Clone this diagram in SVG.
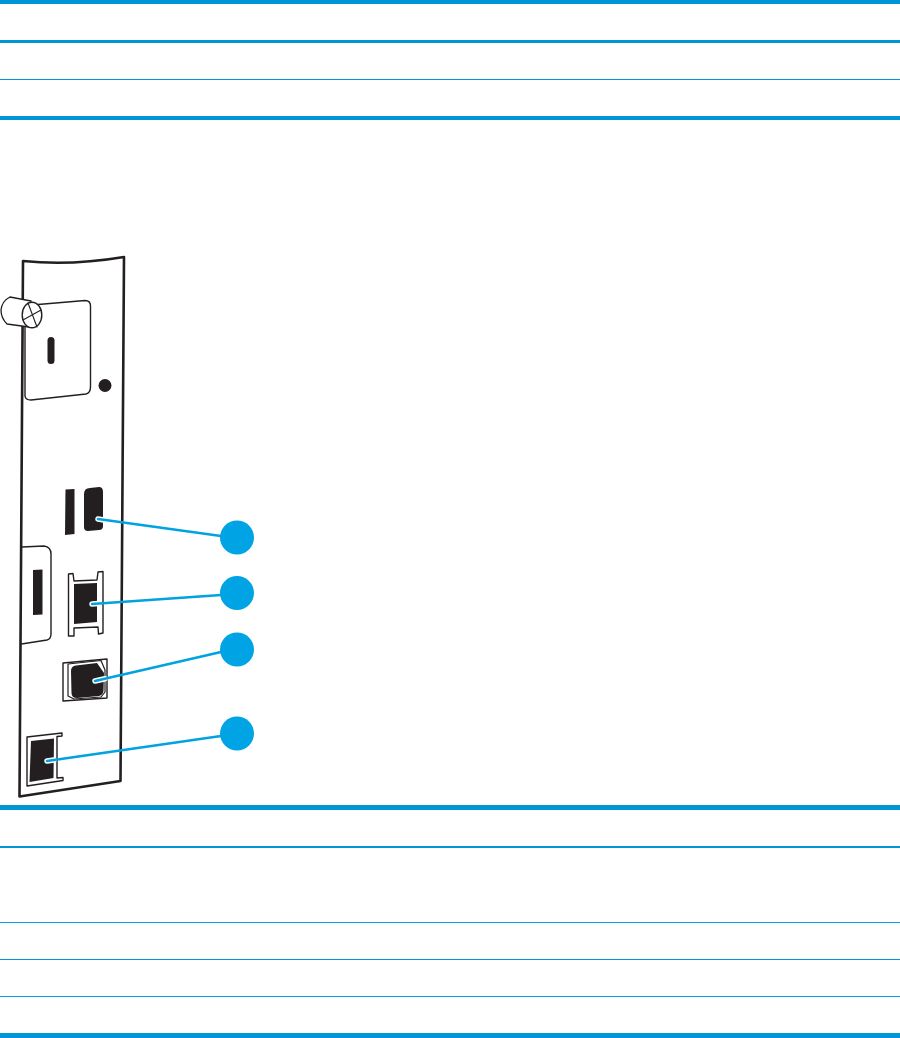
<svg xmlns="http://www.w3.org/2000/svg" width="900" height="1038" viewBox="0 0 900 1038">
<style>
.rule{fill:#0096d6}
.thin{fill:#00a3e0}
.o{fill:none;stroke:#231f20;stroke-linejoin:round;stroke-linecap:round}
.w{fill:#fff;stroke:#231f20;stroke-linejoin:round}
.k{fill:#231f20}
.c{stroke:#00a3e0;stroke-width:2.6;stroke-linecap:round;fill:none}
.d{fill:#fff}
.b{fill:#00a3e4}
</style>
<rect width="900" height="1038" fill="#fff"/>
<g id="table-rules">
<rect class="rule" x="0" y="0" width="900" height="4"/>
<rect class="rule" x="0" y="40" width="900" height="3"/>
<rect class="rule" x="0" y="79" width="900" height="1"/>
<rect class="rule" x="0" y="116" width="900" height="4"/>
<rect class="rule" x="0" y="805" width="900" height="5"/>
<rect class="rule" x="0" y="846" width="900" height="2"/>
<rect class="thin" x="0" y="922" width="900" height="1"/>
<rect class="rule" x="0" y="959" width="900" height="1"/>
<rect class="thin" x="0" y="996" width="900" height="1"/>
<rect class="rule" x="0" y="1033" width="900" height="5"/>
</g>
<g id="panel">
<path class="o" stroke-width="2.600" d="M23 261Q70 266 124 257Q122 520 120.500 781L19.500 796.500Q21 520 23 261Z"/>
</g>
<g id="plate">
<path class="w" stroke-width="1.400" d="M25 396L25 310L38 304.500L85 300.500Q90.500 300.500 90.500 306L90.500 387Q90.500 393 86 394L31 400Q25.500 400 25 396Z"/>
<rect class="k" x="47.500" y="337" width="7" height="27" rx="3.500"/>
<circle class="k" cx="105" cy="385.500" r="6.500"/>
</g>
<g id="thumbscrew">
<path class="w" stroke-width="1.300" d="M10 297L31 301L29 327L7 324Q1 318 1 310Q2 301 10 297Z"/>
<ellipse class="w" stroke-width="1.400" cx="32" cy="315" rx="9.800" ry="12.800"/>
<path class="o" stroke-width="1.100" d="M28 303L37 327M23 320L41 310"/>
</g>
<g id="port-usb-host">
<path class="k" d="M65.500 489.500L74.500 489L74.500 534L65 535Z"/>
<path class="k" d="M90 488L99 487Q103 487 103 492L103 526Q103 530 99 530L88 531Q84 531 84 527L84 494Q84 488 90 488Z"/>
</g>
<g id="side-tab">
<path class="o" stroke-width="1.400" d="M22 547L44 546Q51 547 51 554L51 634Q51 639 47 640L21.500 644"/>
<path class="k" d="M33 570L42.500 569.500L42.500 614.500L33 615Z"/>
</g>
<g id="port-ethernet">
<path class="w" stroke-width="1.400" d="M68.500 574L73 573.500L74 581L97 580L98 572L103 571.500L103 633L98.500 634L98 627L74 628L74 636L68.500 636Z"/>
<path class="k" d="M74 584L97 583L97 622L74 624Z"/>
</g>
<g id="port-usb-device">
<path class="w" stroke-width="1.400" d="M63 663L107 659L107 698L63 701Z"/>
<path class="w" stroke-width="1.200" d="M68 664L101 660.500L105 670L105 692L101 697L74 699L68 696Z"/>
<path class="k" d="M76 665.500L97 663L104 673L103.500 691Q103 695 99 696L77 698Q71.500 698 71.500 693L71 671Q71 666 76 665.500Z"/>
</g>
<g id="port-fax">
<path class="w" stroke-width="1.400" d="M27 737L62 733L62 736L57 736.500L57 778L63 777.500L63 780.500L27 786Z"/>
<path class="k" d="M31 741L54 738.500L53.500 778L29.500 782Z"/>
</g>
<g id="connectors">
<path d="M98 519L104 520M92 604L98 603.600M95 681L105 678.700M47 761L54 760" stroke="#fff" stroke-width="5.500" stroke-linecap="round" fill="none"/>
<path class="c" d="M98 519L221 536"/>
<path class="c" d="M92 604L221 595"/>
<path class="c" d="M95 681L221 652"/>
<path class="c" d="M47 761L221 736"/>
</g>
<g id="callout-1"><circle class="b" cx="237" cy="537.500" r="17"/></g>
<g id="callout-2"><circle class="b" cx="237" cy="593" r="17"/></g>
<g id="callout-3"><circle class="b" cx="237" cy="649.500" r="17"/></g>
<g id="callout-4"><circle class="b" cx="237" cy="733.500" r="17"/></g>
</svg>
